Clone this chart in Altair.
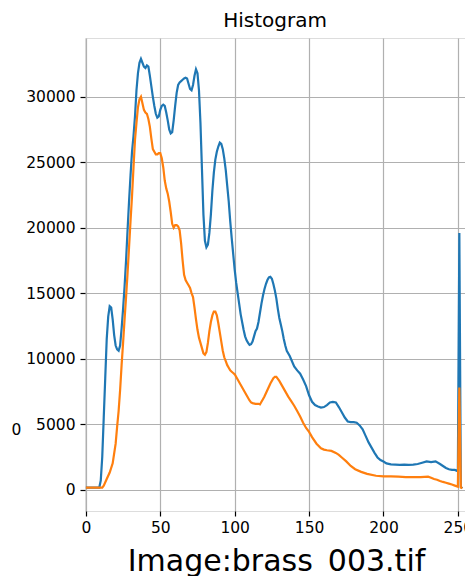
import altair as alt
import pandas as pd

# Blue series — intensity level vs count
blue_x = [0, 9, 10, 11, 12, 13, 14, 15, 16, 17, 18, 19, 20, 21, 22, 23, 24, 25, 26, 27, 28, 29, 30,
          31, 32, 33, 34, 35, 36, 37, 38, 39, 40, 41, 42, 43, 44, 45, 46, 47, 48, 49, 50, 51, 52,
          53, 54, 55, 56, 57, 58, 59, 60, 61, 62, 63, 64, 65, 66, 67, 68, 69, 70, 71, 72, 73, 74,
          75, 76, 77, 78, 79, 80, 81, 82, 83, 84, 85, 86, 87, 88, 89, 90, 91, 92, 93, 94, 95, 96,
          97, 98, 99, 100, 101, 102, 103, 104, 105, 106, 107, 108, 109, 110, 111, 112, 113, 114,
          115, 116, 117, 118, 119, 120, 121, 122, 123, 124, 125, 126, 127, 128, 129, 130, 131, 132,
          133, 134, 135, 137, 140, 142, 144, 146, 148, 150, 152, 154, 156, 158, 160, 162, 164, 166,
          168, 170, 172, 174, 176, 178, 180, 182, 184, 186, 188, 190, 192, 194, 196, 198, 200, 202,
          205, 208, 211, 214, 217, 220, 223, 226, 229, 232, 235, 238, 240, 242, 244, 246, 248, 250,
          251, 252, 253]
blue_y = [150, 150, 700, 2500, 5500, 8500, 11500, 13200, 14000, 13900, 13000, 11800, 11000, 10700,
          10600, 11000, 12300, 13800, 15500, 17500, 19800, 22000, 24000, 25800, 27000, 28500, 30500,
          31800, 32600, 32900, 32600, 32300, 32200, 32400, 32300, 31600, 30800, 30000, 29300, 28700,
          28400, 28500, 29000, 29300, 29400, 29300, 28800, 28200, 27500, 27200, 27300, 28200, 29300,
          30300, 30900, 31100, 31200, 31300, 31400, 31450, 31400, 31000, 30600, 30500, 30900, 31600,
          32100, 31800, 30500, 28000, 24500, 21000, 19000, 18500, 18700, 19600, 21000, 22800, 24200,
          25200, 25800, 26200, 26500, 26400, 26000, 25300, 24400, 23200, 22000, 20500, 19200, 18000,
          16800, 15800, 15000, 14200, 13400, 12800, 12200, 11700, 11400, 11200, 11050, 11100, 11300,
          11700, 12100, 12300, 12800, 13500, 14200, 14800, 15300, 15700, 16000, 16200, 16250, 16100,
          15700, 15200, 14600, 13800, 13100, 12600, 12100, 11500, 11000, 10600, 10200, 9400, 9100,
          8850, 8400, 7900, 7200, 6700, 6450, 6350, 6260, 6300, 6450, 6650, 6700, 6650, 6300, 5900,
          5500, 5200, 5150, 5150, 5100, 4900, 4600, 4100, 3600, 3200, 2800, 2450, 2250, 2140, 2000,
          1920, 1900, 1880, 1900, 1880, 1900, 1950, 2050, 2150, 2100, 2150, 1950, 1800, 1650, 1550,
          1500, 1500, 1400, 19600, 200, 100]

# Orange series
orange_x = [0, 11, 12, 14, 16, 18, 20, 21, 22, 23, 24, 25, 26, 27, 28, 29, 30, 31, 32, 33, 34, 35,
            36, 37, 38, 39, 40, 41, 42, 43, 44, 45, 46, 47, 48, 49, 50, 51, 52, 53, 54, 55, 56, 57,
            58, 59, 60, 61, 62, 63, 64, 65, 66, 67, 68, 69, 70, 71, 72, 73, 74, 75, 76, 77, 78, 79,
            80, 81, 82, 83, 84, 85, 86, 87, 88, 89, 90, 91, 92, 93, 94, 95, 96, 97, 98, 99, 100, 102,
            104, 106, 108, 110, 111, 112, 114, 116, 117, 118, 119, 120, 122, 124, 126, 127, 128, 130,
            132, 134, 136, 138, 140, 142, 144, 146, 148, 150, 152, 155, 158, 160, 162, 165, 168, 170,
            172, 175, 178, 181, 185, 189, 195, 200, 205, 210, 215, 220, 225, 230, 232, 234, 236, 238,
            240, 242, 244, 246, 248, 250, 251, 252, 253]
orange_y = [150, 150, 300, 800, 1300, 2000, 3500, 4800, 6000, 7600, 9500, 11200, 13000, 14700,
            16500, 18500, 20500, 22400, 24600, 26700, 28000, 29200, 29800, 30000, 29500, 29000, 28800,
            28700, 28300, 27700, 26800, 26000, 25800, 25600, 25600, 25700, 25700, 25300, 24600, 23600,
            23000, 22600, 22000, 21200, 20300, 20000, 20200, 20200, 20100, 19800, 18800, 17500, 16400,
            16000, 15800, 15600, 15400, 15000, 14700, 13900, 13000, 12200, 11600, 11200, 10800, 10400,
            10300, 10500, 11200, 12100, 12800, 13300, 13600, 13600, 13300, 12700, 12000, 11300, 10600,
            10100, 9800, 9500, 9300, 9100, 9000, 8900, 8800, 8400, 8000, 7600, 7200, 6800, 6650, 6600,
            6550, 6550, 6500, 6700, 6900, 7100, 7600, 8100, 8500, 8600, 8600, 8300, 7900, 7500, 7100,
            6750, 6400, 6000, 5570, 5100, 4700, 4400, 4000, 3500, 3150, 3050, 3000, 2950, 2800, 2650,
            2450, 2150, 1800, 1550, 1350, 1200, 1050, 1000, 1000, 980, 950, 950, 950, 980, 900, 800,
            750, 650, 580, 520, 450, 380, 300, 220, 7800, 150, 100]

x_ticks = [0, 50, 100, 150, 200, 250]
y_ticks = [0, 5000, 10000, 15000, 20000, 25000, 30000]

df = pd.concat([
    pd.DataFrame({"level": blue_x, "count": blue_y, "series": "a", "order": range(len(blue_x))}),
    pd.DataFrame({"level": orange_x, "count": orange_y, "series": "b", "order": range(len(orange_x))}),
])

FONT = "DejaVu Sans"

x_enc = alt.X("level:Q",
              scale=alt.Scale(domain=[-0.6, 254.8], nice=False, zero=False),
              axis=alt.Axis(values=x_ticks, title="Image:brass_003.tif", titleFontSize=30,
                            titleFont=FONT, titleFontWeight="normal", titleColor="black",
                            titleX=191, titleY=59, titleBaseline="alphabetic", titleAlign="center",
                            labelFontSize=15.5, labelFont=FONT, labelColor="black",
                            labelPadding=4, tickSize=5, tickWidth=1.2, tickColor="black",
                            domain=False, grid=True, gridColor="#b0b0b0", gridWidth=1.2,
                            labelFlush=False))
y_enc = alt.Y("count:Q",
              scale=alt.Scale(domain=[-1640, 34490], nice=False, zero=False),
              axis=alt.Axis(values=y_ticks, format="d", title="0", titleAngle=0,
                            titleFontSize=15.5, titleFont=FONT, titleFontWeight="normal",
                            titleColor="black", titleX=-69, titleY=391, titleAlign="center",
                            titleBaseline="middle",
                            labelFontSize=15.5, labelFont=FONT, labelColor="black",
                            labelPadding=5, tickSize=5, tickWidth=1.2, tickColor="black",
                            domain=False, grid=True, gridColor="#b0b0b0", gridWidth=1.2,
                            labelFlush=False))

lines = alt.Chart(df).mark_line(strokeWidth=2.2, clip=True).encode(
    x=x_enc,
    y=y_enc,
    color=alt.Color("series:N", scale=alt.Scale(domain=["a", "b"], range=["#1f77b4", "#ff7f0e"]),
                    legend=None),
    order="order:Q",
)

chart = lines.properties(
    width=380,
    height=473,
    title=alt.TitleParams("Histogram", font=FONT, fontSize=20, fontWeight="normal",
                          color="black", baseline="alphabetic", offset=2, dy=11, anchor="middle"),
    autosize=alt.AutoSizeParams(type="none"),
    padding={"left": 77, "top": 30, "right": 0, "bottom": 65},
).configure_view(stroke="black", strokeWidth=1.2).configure(background="white")

chart.save("out.html", embed_options={"renderer": "svg", "actions": False})
